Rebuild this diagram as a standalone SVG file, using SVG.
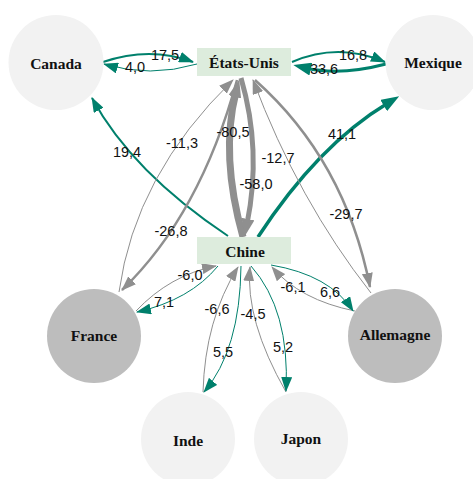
<svg xmlns="http://www.w3.org/2000/svg" width="473" height="479" viewBox="0 0 473 479">
<defs>
<style>
.lbl{font-family:"Liberation Serif","Times New Roman",serif;font-weight:bold;font-size:15.5px;fill:#111;text-anchor:middle}
.el{font-family:"Liberation Sans",Arial,sans-serif;font-size:14.5px;fill:#111;text-anchor:middle}
.g{fill:none;stroke:#00806c}
.k{fill:none;stroke:#8f8f8f}
.lt{fill:#f2f2f2}
.dk{fill:#bdbdbd}
.bx{fill:#ddecdd}
</style>
<marker id="ag" markerUnits="userSpaceOnUse" markerWidth="15" markerHeight="11" viewBox="0 0 15 11" refX="14" refY="5.5" orient="auto"><path d="M0,0 L15,5.5 L0,11 Z" fill="#00806c"/></marker>
<marker id="ak" markerUnits="userSpaceOnUse" markerWidth="15" markerHeight="11" viewBox="0 0 15 11" refX="14" refY="5.5" orient="auto"><path d="M0,0 L15,5.5 L0,11 Z" fill="#8f8f8f"/></marker>
<marker id="agT" markerUnits="userSpaceOnUse" markerWidth="18" markerHeight="13" viewBox="0 0 18 13" refX="5" refY="6.5" orient="auto"><path d="M0,0 L18,6.5 L0,13 Z" fill="#00806c"/></marker>
<marker id="akT" markerUnits="userSpaceOnUse" markerWidth="18" markerHeight="13" viewBox="0 0 18 13" refX="5" refY="6.5" orient="auto"><path d="M0,0 L18,6.5 L0,13 Z" fill="#8f8f8f"/></marker>
</defs>
<rect width="473" height="479" fill="#ffffff"/>
<g id="connectors">
<path class="g" stroke-width="2" d="M103,62 Q150,46 193,62" marker-end="url(#ag)"/>
<path class="g" stroke-width="1" d="M197,64 Q150,78 104,64" marker-end="url(#ag)"/>
<path class="g" stroke-width="2" d="M292,62 Q338,42 385,62" marker-end="url(#ag)"/>
<path class="g" stroke-width="3" d="M386,64 Q340,76 306,68" marker-end="url(#agT)"/>
<path class="g" stroke-width="2" d="M228,236 Q132,172 92,98" marker-end="url(#ag)"/>
<path class="g" stroke-width="3.5" d="M258,237 Q318,145 388,103" marker-end="url(#agT)"/>
<path class="k" stroke-width="7" d="M243,237 Q220,155 236,92" marker-end="url(#akT)"/>
<path class="k" stroke-width="5" d="M241,78 Q262,150 247,224" marker-end="url(#akT)"/>
<path class="k" stroke-width="1" d="M119,292 Q135,175 233,80" marker-end="url(#ak)"/>
<path class="k" stroke-width="2.5" d="M237,80 Q200,215 122,290" marker-end="url(#ak)"/>
<path class="k" stroke-width="2.5" d="M255,80 Q345,160 370,287" marker-end="url(#ak)"/>
<path class="k" stroke-width="1" d="M371,293 Q298,200 253,80" marker-end="url(#ak)"/>
<path class="k" stroke-width="1" d="M136,311 Q170,275 216,266" marker-end="url(#ak)"/>
<path class="g" stroke-width="1" d="M218,266 Q190,300 137,312" marker-end="url(#ag)"/>
<path class="k" stroke-width="1" d="M203,392 Q205,320 238,267" marker-end="url(#ak)"/>
<path class="g" stroke-width="1" d="M241,266 Q240,350 204,392" marker-end="url(#ag)"/>
<path class="k" stroke-width="1" d="M286,392 Q245,320 250,267" marker-end="url(#ak)"/>
<path class="g" stroke-width="1" d="M251,266 Q290,310 286,391" marker-end="url(#ag)"/>
<path class="k" stroke-width="1" d="M355,311 Q300,300 272,267" marker-end="url(#ak)"/>
<path class="g" stroke-width="1" d="M271,265 Q330,275 353,311" marker-end="url(#ag)"/>
<text class="el" x="165" y="60">17,5</text>
<text class="el" x="135" y="72">4,0</text>
<text class="el" x="353" y="60">16,8</text>
<text class="el" x="324" y="74">33,6</text>
<text class="el" x="127" y="157">19,4</text>
<text class="el" x="342" y="139">41,1</text>
<text class="el" x="182" y="148">-11,3</text>
<text class="el" x="233" y="137">-80,5</text>
<text class="el" x="278" y="163">-12,7</text>
<text class="el" x="256" y="189">-58,0</text>
<text class="el" x="346" y="219">-29,7</text>
<text class="el" x="171" y="236">-26,8</text>
<text class="el" x="190" y="280">-6,0</text>
<text class="el" x="164" y="307">7,1</text>
<text class="el" x="217" y="314">-6,6</text>
<text class="el" x="223" y="357">5,5</text>
<text class="el" x="253" y="319">-4,5</text>
<text class="el" x="283" y="352">5,2</text>
<text class="el" x="293" y="292">-6,1</text>
<text class="el" x="330" y="297">6,6</text>
</g>
<g id="canada"><circle class="lt" cx="56" cy="62.5" r="47.5"/><text class="lbl" x="56" y="68.5">Canada</text></g>
<g id="etats-unis"><rect class="bx" x="197" y="48" width="94" height="28"/><text class="lbl" x="244" y="68">États-Unis</text></g>
<g id="mexique"><circle class="lt" cx="433" cy="62.5" r="47.5"/><text class="lbl" x="433" y="68">Mexique</text></g>
<g id="chine"><rect class="bx" x="197" y="237" width="94" height="27"/><text class="lbl" x="245" y="256.5">Chine</text></g>
<g id="france"><circle class="dk" cx="94" cy="336" r="47"/><text class="lbl" x="94" y="341">France</text></g>
<g id="allemagne"><circle class="dk" cx="395" cy="336" r="47"/><text class="lbl" x="395" y="339.5">Allemagne</text></g>
<g id="inde"><circle class="lt" cx="188" cy="439" r="47"/><text class="lbl" x="188" y="446">Inde</text></g>
<g id="japon"><circle class="lt" cx="301" cy="439" r="47"/><text class="lbl" x="301" y="444">Japon</text></g>
</svg>
